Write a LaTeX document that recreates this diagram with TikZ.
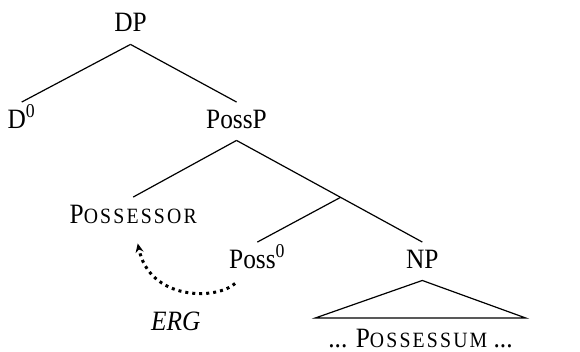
\documentclass[tikz,border=0pt]{standalone}
\usepackage{fontspec}
\setmainfont{Liberation Serif}[FakeStretch=0.906]
\usetikzlibrary{arrows.meta,positioning,calc}

\newcommand{\smcap}[2]{#1{\fontsize{10.9}{13}\selectfont\addfontfeatures{LetterSpace=10}#2}}

\begin{document}
\begin{tikzpicture}[x=0.453pt, y=-0.5pt,
    cat/.style={inner xsep=0pt, inner ysep=3.5pt, text height=9.3pt, text depth=2.5pt, anchor=base},
    branch/.style={line width=0.6pt},
    move/.style={line width=1.5pt, dotted, -{Stealth[length=4.5pt, width=4pt]}}]
    \useasboundingbox (0,0) rectangle (640,351);
    \fontsize{14}{16}\selectfont
    \node (dp) [cat] at (144,32) {DP};
    \node (d0) [cat] at (24,128) {D\textsuperscript{0}};
    \node (possp) [cat] at (261,128) {PossP};
    \node (possor) [cat] at (147,223) {\smcap{P}{OSSESSOR}};
    \node (poss0) [cat] at (284,268) {Poss\textsuperscript{0}};
    \node (np) [cat] at (466,268) {NP};
    \node (possum) [cat, inner ysep=5pt, minimum width=105pt] at (464,347) {... \smcap{P}{OSSESSUM} ...};
    \node (erg) [cat] at (194,330) {\textit{ERG}};
    \coordinate (bar) at ($(possp.south)!0.56!(np.north)$);

    \draw [branch] (dp.south) -- (d0.north);
    \draw [branch] (dp.south) -- (possp.north);
    \draw [branch] (possp.south) -- (possor.north);
    \draw [branch] (possp.south) -- (np.north);
    \draw [branch] (bar) -- (poss0.north);
    \draw [branch] (np.south) -- (possum.north west) -- (possum.north east) -- cycle;
    \draw [move] ($(poss0.south west)+(7,3)$) .. controls +(-21,17) and +(13,57) .. ($(possor.south)+(5,8)$);
\end{tikzpicture}
\end{document}
